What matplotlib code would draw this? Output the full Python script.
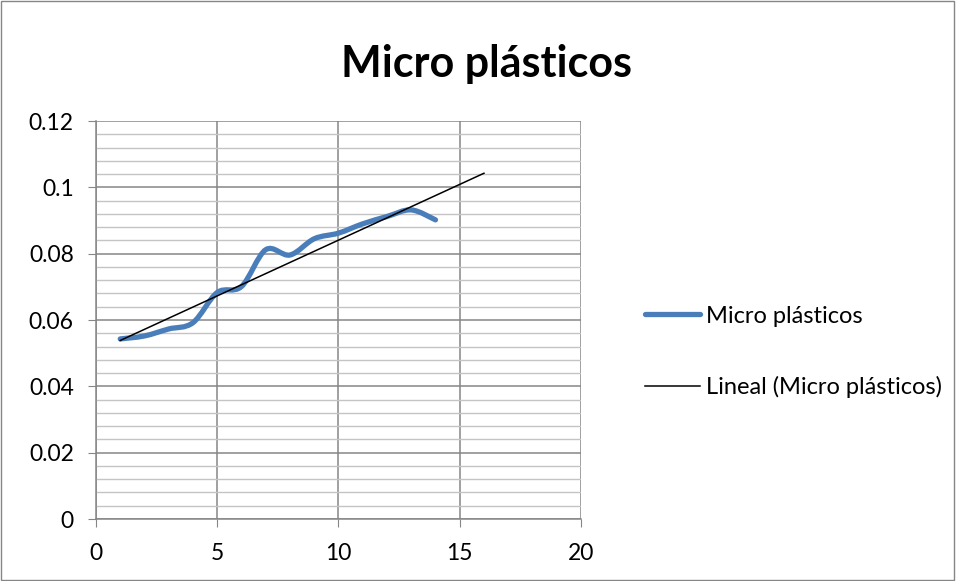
import numpy as np
import matplotlib.pyplot as plt
from matplotlib.path import Path
from matplotlib.patches import PathPatch
from matplotlib.lines import Line2D
from matplotlib.ticker import MultipleLocator

plt.rcParams['font.family'] = ['Lato', 'DejaVu Sans']

# muestras y concentración medida
muestra = [1, 2, 3, 4, 5, 6, 7, 8, 9, 10, 11, 12, 13, 14]
micro = [0.0543, 0.0552, 0.0573, 0.0592, 0.0683, 0.0701, 0.0812, 0.0796,
         0.0845, 0.0862, 0.0890, 0.0912, 0.0932, 0.0902]
titulo = 'Micro plásticos'
etiqueta_tend = 'Lineal (Micro plásticos)'

azul = '#4a7ebb'
gris = '#868686'


def curva_suave(x, y, t=1/6):
    # línea suavizada con curvas de Bezier (estilo Catmull-Rom)
    x = np.asarray(x, float)
    y = np.asarray(y, float)
    verts = [(x[0], y[0])]
    codes = [Path.MOVETO]
    n = len(x)
    for i in range(n - 1):
        x0, y0 = (x[i - 1], y[i - 1]) if i > 0 else (x[i], y[i])
        x3, y3 = (x[i + 2], y[i + 2]) if i + 2 < n else (x[i + 1], y[i + 1])
        c1 = (x[i] + (x[i + 1] - x0) * t, y[i] + (y[i + 1] - y0) * t)
        c2 = (x[i + 1] - (x3 - x[i]) * t, y[i + 1] - (y3 - y[i]) * t)
        verts += [c1, c2, (x[i + 1], y[i + 1])]
        codes += [Path.CURVE4] * 3
    return Path(verts, codes)


fig = plt.figure(figsize=(9.56, 5.81), dpi=100)
fig.patches.append(plt.Rectangle((0.001, 0.001), 0.997, 0.997, transform=fig.transFigure,
                                 fill=False, edgecolor=gris, linewidth=1))
ax = fig.add_axes([0.1004, 0.1067, 0.5073, 0.685])

ax.set_xlim(0, 20)
ax.set_ylim(0, 0.12)
ax.xaxis.set_major_locator(MultipleLocator(5))
ax.yaxis.set_minor_locator(MultipleLocator(0.004))
ax.set_yticks([0, 0.02, 0.04, 0.06, 0.08, 0.1, 0.12])
ax.set_yticklabels(['0', '0.02', '0.04', '0.06', '0.08', '0.1', '0.12'])

ax.grid(which='major', color=gris, linewidth=1.1)
ax.grid(which='minor', axis='y', color='#c4c4c4', linewidth=1)
ax.set_axisbelow(True)
for s in ['top', 'right']:
    ax.spines[s].set_visible(False)
for s in ['left', 'bottom']:
    ax.spines[s].set_color(gris)
    ax.spines[s].set_linewidth(1.1)
ax.tick_params(which='major', length=6, color=gris, labelsize=16.5)
ax.tick_params(axis='y', pad=10)
ax.tick_params(axis='x', pad=11)
ax.tick_params(which='minor', length=0)

ax.add_patch(PathPatch(curva_suave(muestra, micro), facecolor='none', edgecolor=azul,
                       linewidth=3.8, capstyle='round', joinstyle='round', zorder=3))

# tendencia lineal, pronóstico 2 periodos hacia adelante
m, b = np.polyfit(muestra, micro, 1)
xt = np.array([muestra[0], muestra[-1] + 2])
ax.plot(xt, m * xt + b, color='black', linewidth=1.1, zorder=4)

fig.text(0.509, 0.889, titulo, ha='center', va='center', fontsize=31, fontweight='bold')

handles = [Line2D([], [], color=azul, linewidth=3.8, solid_capstyle='round'),
           Line2D([], [], color='black', linewidth=1.1)]
fig.legend(handles, [titulo, etiqueta_tend], loc='center left',
           bbox_to_anchor=(0.652, 0.394), frameon=False, fontsize=17,
           handlelength=2.35, handletextpad=0.25, labelspacing=2.1)

fig.savefig('out.png', dpi=100)
